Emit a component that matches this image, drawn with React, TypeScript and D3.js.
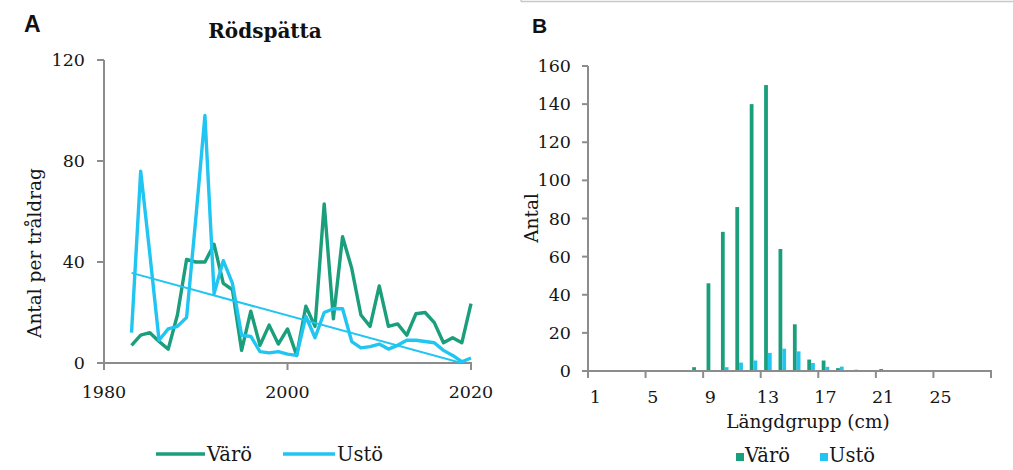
import React from "react";
import * as d3 from "d3";

// Panel A: yearly catch per haul
const years = [1983, 1984, 1985, 1986, 1987, 1988, 1989, 1990, 1991, 1992, 1993, 1994, 1995, 1996, 1997, 1998, 1999, 2000, 2001,
  2002, 2003, 2004, 2005, 2006, 2007, 2008, 2009, 2010, 2011, 2012, 2013, 2014, 2015, 2016, 2017, 2018, 2019, 2020];
const varo = [7, 11, 12, 8.5, 5.5, 19, 41, 40, 40, 47, 31.5, 29, 5, 20.5, 7, 15, 7.5, 13.5, 3, 22.5, 14.5, 63, 17.5,
  50, 37.5, 19, 14.5, 30.5, 14.5, 15.5, 11, 19.5, 20, 16, 8, 10, 8, 23.5];
const usto = [12, 76, 43, 9, 13.5, 14.5, 18, 57, 98, 27.5, 40.5, 31.5, 11, 10.5, 4.5, 4, 4.5, 3.5, 3, 18.5, 10, 20, 21.5,
  21.5, 8.5, 6, 6.5, 7.5, 5.5, 7, 9, 9, 8.5, 8, 5, 3, 0.5, 2];
const yearTicks = [1980, 2000, 2020];
const catchTicks = [0, 40, 80, 120];

// Panel B: length distribution
const lengthGroups = d3.range(1, 29).map(String);
const varoLen = [0, 0, 0, 0, 0, 0, 0, 2, 46, 73, 86, 140, 150, 64, 24.5, 6, 5.5, 1.5, 0, 0, 1, 0, 0, 0, 0, 0, 0, 0];
const ustoLen = [0, 0, 0, 0, 0, 0, 0, 0, 0, 2, 4.4, 5.5, 9.5, 11.7, 10.3, 4.2, 2.2, 2.3, 0.7, 0, 0, 0, 0, 0, 0, 0, 0, 0];
const lengthLabels = ["1", "5", "9", "13", "17", "21", "25"];
const countTicks = [0, 20, 40, 60, 80, 100, 120, 140, 160];
const seriesNames = ["Värö", "Ustö"];

const GREEN = "#1b9e7b";
const BLUE = "#20c5f2";
const AXIS = "#8c8c8c";
const TEXT = "#161616";
const FONT = "DejaVu Serif, serif";

const App = () => {
  // ---- panel A scales
  const xA = d3.scaleLinear().domain([1980, 2020]).range([104, 471]);
  const yA = d3.scaleLinear().domain([0, 120]).range([363, 60]);
  const lineGen = d3.line<[number, number]>().x(d => xA(d[0])).y(d => yA(d[1]));
  const varoPts = years.map((y, i) => [y, varo[i]] as [number, number]);
  const ustoPts = years.map((y, i) => [y, usto[i]] as [number, number]);

  // linear trend of Ustö (least squares)
  const mx = d3.mean(years)!;
  const my = d3.mean(usto)!;
  const slope = d3.sum(years, (y, i) => (y - mx) * (usto[i] - my)) / d3.sum(years, y => (y - mx) ** 2);
  const trendPts = [years[0], years[years.length - 1]].map(y => [y, my + slope * (y - mx)] as [number, number]);

  // ---- panel B scales
  const xB = d3.scaleBand().domain(lengthGroups).range([588, 991]).padding(0);
  const xSub = d3.scaleBand().domain(seriesNames).range([0, xB.bandwidth()]).paddingOuter(0.9).paddingInner(0);
  const yB = d3.scaleLinear().domain([0, 160]).range([371, 66]);
  const boundaries = d3.range(0, 29, 4).map(i => xB.range()[0] + i * xB.step());

  return (
    <svg width={1013} height={470} style={{ position: "absolute", left: 0, top: 0, background: "#fff" }}
      fontFamily={FONT}>
      {/* ---------- Panel A ---------- */}
      <text x={24} y={32} fontFamily="Liberation Sans, Arial, sans-serif" fontWeight="bold" fontSize={23} fill="#111">A</text>
      <text x={265} y={38} textAnchor="middle" fontWeight="bold" fontSize={20} fill="#111">Rödspätta</text>

      <defs>
        <clipPath id="plotA">
          <rect x={104} y={40} width={380} height={323} />
        </clipPath>
      </defs>

      {/* axes */}
      <line x1={104} x2={104} y1={yA(120)} y2={yA(0)} stroke={AXIS} strokeWidth={2} />
      <line x1={103} x2={xA(2020) + 1} y1={yA(0)} y2={yA(0)} stroke={AXIS} strokeWidth={2} />
      {catchTicks.map(t => (
        <g key={t}>
          <line x1={97} x2={104} y1={yA(t)} y2={yA(t)} stroke={AXIS} strokeWidth={2} />
          <text x={85} y={yA(t) + 6} textAnchor="end" fontSize={17.5} fill={TEXT}>{t}</text>
        </g>
      ))}
      {yearTicks.map(t => (
        <g key={t}>
          <line x1={xA(t)} x2={xA(t)} y1={363} y2={370} stroke={AXIS} strokeWidth={2} />
          <text x={xA(t)} y={398} textAnchor="middle" fontSize={17.5} fill={TEXT}>{t}</text>
        </g>
      ))}
      <text transform="translate(41,253) rotate(-90)" textAnchor="middle" fontSize={18.5} fill={TEXT}>Antal per tråldrag</text>

      {/* series */}
      <g clipPath="url(#plotA)">
        <path d={lineGen(varoPts) || ""} fill="none" stroke={GREEN} strokeWidth={3.4} strokeLinejoin="round" />
        <path d={lineGen(ustoPts) || ""} fill="none" stroke={BLUE} strokeWidth={3.4} strokeLinejoin="round" />
        <path d={lineGen(trendPts) || ""} fill="none" stroke={BLUE} strokeWidth={2} />
      </g>

      {/* legend A */}
      <line x1={156} x2={205} y1={454} y2={454} stroke={GREEN} strokeWidth={3.4} />
      <text x={207} y={461} fontSize={19.5} fill={TEXT}>{seriesNames[0]}</text>
      <line x1={283} x2={335} y1={454} y2={454} stroke={BLUE} strokeWidth={3.4} />
      <text x={337} y={461} fontSize={19.5} fill={TEXT}>{seriesNames[1]}</text>

      {/* ---------- Panel B ---------- */}
      <line x1={521} x2={1013} y1={1.5} y2={1.5} stroke="#c8c8c8" strokeWidth={1.5} />
      <line x1={521} x2={521} y1={0} y2={1.5} stroke="#c8c8c8" strokeWidth={1.5} />
      <text x={532} y={33} fontFamily="Liberation Sans, Arial, sans-serif" fontWeight="bold" fontSize={21} fill="#111">B</text>

      {/* bars */}
      {lengthGroups.map((g, i) => (
        <g key={g} transform={`translate(${xB(g)},0)`}>
          {varoLen[i] > 0 && (
            <rect x={xSub("Värö")} width={xSub.bandwidth()} y={yB(varoLen[i])} height={yB(0) - yB(varoLen[i])} fill={GREEN} />
          )}
          {ustoLen[i] > 0 && (
            <rect x={xSub("Ustö")} width={xSub.bandwidth()} y={yB(ustoLen[i])} height={yB(0) - yB(ustoLen[i])} fill={BLUE} />
          )}
        </g>
      ))}

      {/* axes */}
      <line x1={588} x2={588} y1={yB(160)} y2={yB(0)} stroke={AXIS} strokeWidth={2} />
      <line x1={587} x2={992} y1={yB(0)} y2={yB(0)} stroke={AXIS} strokeWidth={2} />
      {countTicks.map(t => (
        <g key={t}>
          <line x1={582} x2={588} y1={yB(t)} y2={yB(t)} stroke={AXIS} strokeWidth={2} />
          <text x={571} y={yB(t) + 6} textAnchor="end" fontSize={17.5} fill={TEXT}>{t}</text>
        </g>
      ))}
      {boundaries.map((bx, i) => (
        <line key={i} x1={bx} x2={bx} y1={371} y2={378} stroke={AXIS} strokeWidth={2} />
      ))}
      {lengthLabels.map(l => (
        <text key={l} x={xB(l)! + xB.bandwidth() / 2} y={403} textAnchor="middle" fontSize={17.5} fill={TEXT}>{l}</text>
      ))}
      <text x={808} y={428} textAnchor="middle" fontSize={18.5} fill={TEXT}>Längdgrupp (cm)</text>
      <text transform="translate(538,218) rotate(-90)" textAnchor="middle" fontSize={18.5} fill={TEXT}>Antal</text>

      {/* legend B */}
      <rect x={736} y={453} width={8} height={8} fill={GREEN} />
      <text x={745} y={462} fontSize={19.5} fill={TEXT}>{seriesNames[0]}</text>
      <rect x={820} y={453} width={8} height={8} fill={BLUE} />
      <text x={829} y={462} fontSize={19.5} fill={TEXT}>{seriesNames[1]}</text>
    </svg>
  );
};

export default App;
